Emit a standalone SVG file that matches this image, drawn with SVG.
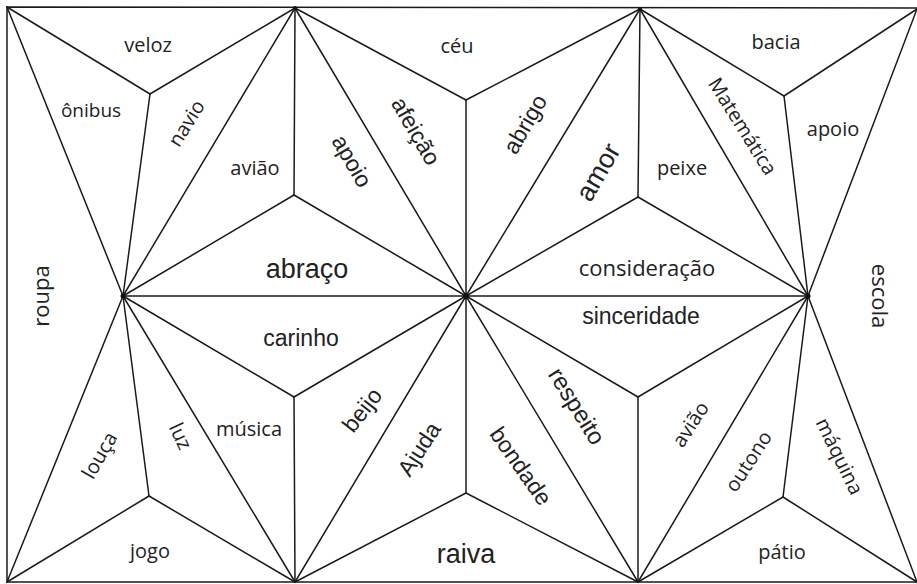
<svg xmlns="http://www.w3.org/2000/svg" width="917" height="584" viewBox="0 0 917 584">
<style>
.ln{stroke:#1a1a1a;stroke-width:1.5;fill:none;stroke-linecap:round}
.o{font-family:"Open Sans","Noto Sans",sans-serif;font-size:20px;fill:#222;text-anchor:middle;dominant-baseline:central}
.a{font-family:"Liberation Sans",Arial,sans-serif;font-size:23px;fill:#222;text-anchor:middle;dominant-baseline:central}
.big{font-size:27px}
.dot{fill:#111}
</style>
<rect width="917" height="584" fill="#fff"/>
<g id="connectors">
<polyline class="ln" points="917,8 7,7 7,582 917,582"/>
<line class="ln" x1="123" y1="296" x2="808" y2="296"/>
<line class="ln" x1="7" y1="7" x2="150" y2="94"/>
<line class="ln" x1="295" y1="8" x2="150" y2="94"/>
<line class="ln" x1="150" y1="94" x2="123" y2="296"/>
<line class="ln" x1="7" y1="7" x2="123" y2="296"/>
<line class="ln" x1="295" y1="8" x2="123" y2="296"/>
<line class="ln" x1="295" y1="8" x2="294" y2="195"/>
<line class="ln" x1="294" y1="195" x2="123" y2="296"/>
<line class="ln" x1="294" y1="195" x2="466" y2="296"/>
<line class="ln" x1="295" y1="8" x2="466" y2="100"/>
<line class="ln" x1="640" y1="9" x2="466" y2="100"/>
<line class="ln" x1="466" y1="100" x2="466" y2="296"/>
<line class="ln" x1="295" y1="8" x2="466" y2="296"/>
<line class="ln" x1="640" y1="9" x2="466" y2="296"/>
<line class="ln" x1="640" y1="9" x2="638" y2="197"/>
<line class="ln" x1="638" y1="197" x2="466" y2="296"/>
<line class="ln" x1="638" y1="197" x2="808" y2="296"/>
<line class="ln" x1="640" y1="9" x2="808" y2="296"/>
<line class="ln" x1="640" y1="9" x2="784" y2="96"/>
<line class="ln" x1="917" y1="9" x2="784" y2="96"/>
<line class="ln" x1="784" y1="96" x2="808" y2="296"/>
<line class="ln" x1="917" y1="9" x2="808" y2="296"/>
<line class="ln" x1="123" y1="296" x2="7" y2="582"/>
<line class="ln" x1="123" y1="296" x2="149" y2="496"/>
<line class="ln" x1="149" y1="496" x2="7" y2="582"/>
<line class="ln" x1="149" y1="496" x2="295" y2="582"/>
<line class="ln" x1="123" y1="296" x2="295" y2="582"/>
<line class="ln" x1="123" y1="296" x2="294" y2="397"/>
<line class="ln" x1="294" y1="397" x2="295" y2="582"/>
<line class="ln" x1="294" y1="397" x2="466" y2="296"/>
<line class="ln" x1="466" y1="296" x2="295" y2="582"/>
<line class="ln" x1="466" y1="296" x2="466" y2="493"/>
<line class="ln" x1="466" y1="493" x2="295" y2="582"/>
<line class="ln" x1="466" y1="493" x2="638" y2="582"/>
<line class="ln" x1="466" y1="296" x2="638" y2="582"/>
<line class="ln" x1="466" y1="296" x2="638" y2="397"/>
<line class="ln" x1="638" y1="397" x2="638" y2="582"/>
<line class="ln" x1="638" y1="397" x2="808" y2="296"/>
<line class="ln" x1="808" y1="296" x2="638" y2="582"/>
<line class="ln" x1="808" y1="296" x2="783" y2="497"/>
<line class="ln" x1="783" y1="497" x2="638" y2="582"/>
<line class="ln" x1="783" y1="497" x2="917" y2="582"/>
<line class="ln" x1="808" y1="296" x2="917" y2="582"/>
<circle class="dot" cx="123" cy="296" r="2.5"/>
<circle class="dot" cx="466" cy="296" r="3"/>
<circle class="dot" cx="808" cy="296" r="2.5"/>
<circle class="dot" cx="295" cy="8" r="2"/>
<circle class="dot" cx="640" cy="9" r="2"/>
</g>
<g id="labels">
<text class="o" x="148" y="44">veloz</text>
<text class="o" x="91" y="110" style="font-size:19px">ônibus</text>
<text class="o" transform="translate(186,123) rotate(-58)">navio</text>
<text class="o" x="255" y="167">avião</text>
<text class="o" transform="translate(40,296) rotate(-90)" style="font-size:22px">roupa</text>
<text class="a" transform="translate(352,161) rotate(60)">apoio</text>
<text class="a" transform="translate(416,131) rotate(60)">afeição</text>
<text class="o" x="457" y="45">céu</text>
<text class="a" transform="translate(525,124) rotate(-60)">abrigo</text>
<text class="a big" transform="translate(598,172) rotate(-60)">amor</text>
<text class="o" x="682" y="167">peixe</text>
<text class="o" transform="translate(743,126) rotate(58)">Matemática</text>
<text class="o" x="776" y="41">bacia</text>
<text class="o" x="833" y="128">apoio</text>
<text class="o" transform="translate(881,296) rotate(90)" style="font-size:22px">escola</text>
<text class="a big" x="307" y="269">abraço</text>
<text class="o" x="647" y="267" style="font-size:22px">consideração</text>
<text class="a" x="641" y="316">sinceridade</text>
<text class="a" x="301" y="338">carinho</text>
<text class="o" transform="translate(99,455) rotate(-60)">louça</text>
<text class="o" transform="translate(181,436) rotate(65)">luz</text>
<text class="o" x="249" y="428">música</text>
<text class="a" transform="translate(362,410) rotate(-52)">beijo</text>
<text class="a" transform="translate(419,449) rotate(-57)">Ajuda</text>
<text class="a" transform="translate(521,466) rotate(55)">bondade</text>
<text class="a" transform="translate(577,406) rotate(58)" style="font-size:24px">respeito</text>
<text class="o" transform="translate(690,424) rotate(-57)">avião</text>
<text class="o" transform="translate(748,461) rotate(-57)">outono</text>
<text class="o" transform="translate(840,456) rotate(64)">máquina</text>
<text class="o" x="150" y="550">jogo</text>
<text class="a big" x="466" y="554">raiva</text>
<text class="o" x="782" y="551">pátio</text>
</g>
</svg>
